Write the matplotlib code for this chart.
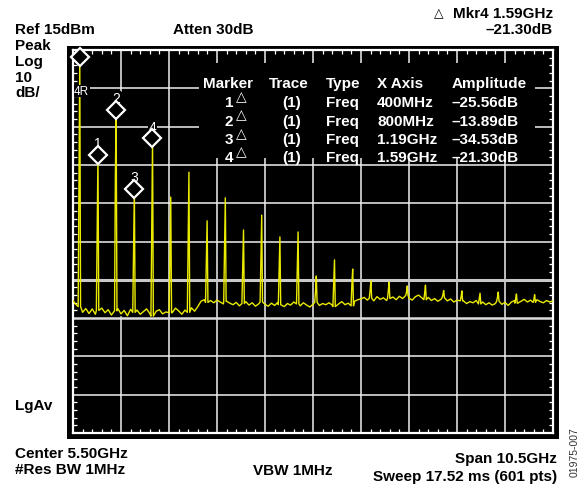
import matplotlib.pyplot as plt
import numpy as np
from matplotlib.patches import Rectangle
from matplotlib.ticker import FixedLocator

W, H = 585, 489

# sweep setup
f_start, f_stop = 0.25, 10.75      # GHz
ref_level, db_div = 15, 10         # dBm, dB/div

# noise floor in dBm, one reading every 70 MHz from f_start
floor_db = [
    -50.5, -51.5, -52.0, -53.5, -52.5, -53.8, -52.6, -54.0, -53.0, -52.4,
    -53.6, -52.8, -54.2, -53.1, -52.5, -53.9, -53.0, -54.4, -52.7, -53.5,
    -52.9, -54.0, -53.3, -52.6, -53.8, -54.5, -53.2, -52.8, -53.9, -53.4,
    -52.7, -53.6, -52.4, -53.1, -54.0, -52.9, -53.5, -52.3, -53.2, -52.0,
    -50.6, -50.2, -50.9, -50.4, -51.0, -50.3, -50.8, -51.3, -50.6, -51.1,
    -51.5, -50.9, -51.8, -51.2, -50.7, -51.6, -51.0, -51.9, -51.3, -50.8,
    -51.4, -51.9, -51.1, -51.7, -50.9, -51.5, -52.0, -51.2, -51.6, -50.8,
    -51.3, -51.8, -51.0, -51.6, -52.1, -51.4, -50.9, -51.7, -51.2, -51.5,
    -51.0, -51.6, -52.0, -51.3, -50.7, -51.5, -51.1, -51.8, -50.6, -50.2,
    -50.0, -49.6, -50.3, -49.8, -50.5, -49.4, -50.1, -49.7, -50.4, -49.9,
    -49.5, -50.2, -49.3, -49.9, -49.1, -49.8, -50.3, -49.4, -49.0, -49.7,
    -50.2, -49.6, -50.4, -49.9, -50.6, -50.1, -49.7, -50.5, -50.0, -50.8,
    -50.3, -50.9, -50.5, -51.2, -50.7, -51.0, -50.4, -51.3, -50.8, -51.5,
    -51.0, -51.6, -51.2, -50.6, -51.4, -50.9, -51.7, -50.8, -50.4, -51.1,
    -50.6, -50.1, -50.8, -50.3, -50.9, -50.2, -50.7, -51.0, -50.4, -50.8,
    -50.5,
]

# harmonic lines: frequency (GHz), peak (dBm), neighbouring bin (dBm)
harm_f = [0.398, 0.796, 1.194, 1.592, 1.990, 2.388, 2.786, 3.184, 3.582,
          3.980, 4.378, 4.776, 5.174, 5.572, 5.970, 6.368, 6.766, 7.164,
          7.562, 7.960, 8.358, 8.756, 9.154, 9.552, 9.950, 10.348]
harm_peak = [13.2, -12.4, -0.7, -21.3, -8.1, -23.4, -16.9, -29.6, -23.6,
             -32.0, -28.1, -33.8, -32.5, -44.0, -39.8, -42.2, -45.3, -45.6,
             -46.6, -46.4, -47.8, -47.9, -48.5, -48.2, -48.7, -48.9]
harm_side = [-17.4, -33.8, -17.9, -38.3, -31.2, -39.0, -34.9, -40.4, -37.5,
             -41.7, -40.1, -43.0, -42.2, -48.2, -45.8, -46.1, -47.9, -48.0,
             -48.3, -48.5, -49.0, -49.5, -49.8, -49.6, -50.0, -50.2]

# delta markers against the 4R reference (fundamental)
ref_f, ref_amp = 0.398, 13.2
mkr_names = ['1', '2', '3', '4']
mkr_df = [0.400, 0.800, 1.19, 1.59]
mkr_da = [-25.56, -13.89, -34.53, -21.30]
mkr_df_txt = ['400MHz', '800MHz', '1.19GHz', '1.59GHz']
mkr_da_txt = ['\u201325.56dB', '\u201313.89dB', '\u201334.53dB', '\u201321.30dB']

# build trace
floor_f = np.linspace(f_start, f_stop, len(floor_db))
step = floor_f[1] - floor_f[0]
keep = np.ones(len(floor_f), bool)
for f in harm_f:
    keep &= ~((floor_f > f - 0.04) & (floor_f < f + 0.025))
pts = [(x, y) for x, y, k in zip(floor_f, floor_db, keep) if k]
for f, pk, sd in zip(harm_f, harm_peak, harm_side):
    base = floor_db[int(round((f - f_start) / step))]
    pts += [(f - 0.035, base), (f - 0.0175, sd), (f, pk), (f + 0.0175, base)]
pts.sort()
tr_f = [p[0] for p in pts]
tr_a = [p[1] for p in pts]

fig = plt.figure(figsize=(W / 100, H / 100), dpi=100)
fig.patch.set_facecolor('white')


def fx(x):
    return x / W


def fy(y):
    return 1 - y / H


fig.patches.append(Rectangle((fx(67), fy(440)), 492 / W, 393 / H,
                             transform=fig.transFigure, fc='black', ec='none', zorder=-5))

ax = fig.add_axes([fx(73), fy(434), 480 / W, 383 / H])
ax.set_facecolor('black')
y_bot = ref_level - 10 * db_div

# graticule
gc = '#f0f0f0'
xdiv = (f_stop - f_start) / 10
for k in range(1, 10):
    x = f_start + k * xdiv
    if k == 1:
        ax.axvline(x, ymin=0.894, ymax=1, color=gc, lw=1.1, zorder=1)
        ax.axvline(x, ymin=0, ymax=0.303, color=gc, lw=1.1, zorder=1)
    else:
        ax.axvline(x, color=gc, lw=1.1, zorder=1)
for k in range(1, 10):
    y = ref_level - k * db_div
    if y == -45:
        ax.axhline(y, color='#c8c8c8', lw=2.2, zorder=1)
    elif y == -55:
        ax.axhline(y, color='#dcdcdc', lw=1.8, zorder=1)
    else:
        ax.axhline(y, color=gc, lw=1.1, zorder=1)

# table mask
ax.add_patch(Rectangle((fx(199), fy(159)), 336 / W, 95 / H,
                       transform=fig.transFigure, fc='black', ec='none', zorder=2))

ax.plot(tr_f, tr_a, color='#eaea00', lw=1.0, zorder=3)

# markers
mf = [ref_f + d for d in mkr_df]
ma = [ref_amp + d for d in mkr_da]
ax.plot([ref_f] + mf, [ref_amp] + ma, 'D', ms=9.5, mfc='black', mec='white',
        mew=1.6, zorder=5, clip_on=False)
for name, f, a in zip(mkr_names, mf, ma):
    ax.annotate(name, (f, a), xytext=(0, 8.5), textcoords='offset points',
                ha='center', va='center', color='white', fontsize=10,
                family='Liberation Sans', zorder=4,
                bbox=dict(fc='black', ec='none', pad=0.3))

ax.set_xlim(f_start, f_stop)
ax.set_ylim(y_bot, ref_level)
ax.xaxis.set_major_locator(FixedLocator(f_start + xdiv * np.arange(11)))
ax.yaxis.set_major_locator(FixedLocator(y_bot + 10 * np.arange(11)))
ax.xaxis.set_minor_locator(FixedLocator(f_start + xdiv / 5 * np.arange(51)))
ax.yaxis.set_minor_locator(FixedLocator(y_bot + 2 * np.arange(51)))
ax.tick_params(which='major', length=0, labelbottom=False, labelleft=False)
ax.tick_params(which='minor', direction='in', length=3, width=0.9,
               color='white', top=True, right=True)
for s in ax.spines.values():
    s.set_color('white')
    s.set_linewidth(1.6)

bold = dict(family='Liberation Sans', weight='bold', fontsize=11, va='baseline')


def label(x, y, s, ha='left', color='black', **kw):
    opts = dict(bold)
    opts.update(kw)
    fig.text(fx(x), fy(y), s, ha=ha, color=color, **opts)


# screen annotations
label(15, 34.3, 'Ref 15dBm')
label(15, 50, 'Peak')
label(15, 66, 'Log')
label(15, 82, '10')
label(15, 97.5, 'dB/')
label(173, 34.3, 'Atten 30dB')
label(553, 18.3, 'Mkr4 1.59GHz', ha='right')
label(439, 17.5, '\u25b3', ha='center', family='DejaVu Sans', fontsize=9)
label(553, 34.3, '\u201321.30dB', ha='right')
label(15, 410, 'LgAv')
label(15, 458.3, 'Center 5.50GHz')
label(15, 474.3, '#Res BW 1MHz')
label(253, 475, 'VBW 1MHz')
label(557, 462.7, 'Span 10.5GHz', ha='right')
label(557, 481, 'Sweep 17.52 ms (601 pts)', ha='right')
fig.text(fx(575), fy(452), '01975-007', rotation=90, ha='center', va='center',
         fontsize=7.5, family='Liberation Sans', color='#333333')

label(74, 95, '4R', color='white', weight='normal', fontsize=8.5,
      bbox=dict(fc='black', ec='none', pad=0.3))

# marker table
label(203, 88.3, 'Marker', color='white')
label(269, 88.3, 'Trace', color='white')
label(326, 88.3, 'Type', color='white')
label(377, 88.3, 'X Axis', color='white')
label(452, 88.3, 'Amplitude', color='white')
for i, name in enumerate(mkr_names):
    yb = 107.3 + i * 18.3
    label(229, yb, name, ha='center', color='white')
    label(241, yb - 6, '\u25b3', ha='center', color='white',
          family='DejaVu Sans', fontsize=10)
    label(282, yb, '(1)', color='white')
    label(326, yb, 'Freq', color='white')
    label(377, yb, mkr_df_txt[i], color='white')
    label(452, yb, mkr_da_txt[i], color='white')

fig.savefig('out.png', dpi=100)
